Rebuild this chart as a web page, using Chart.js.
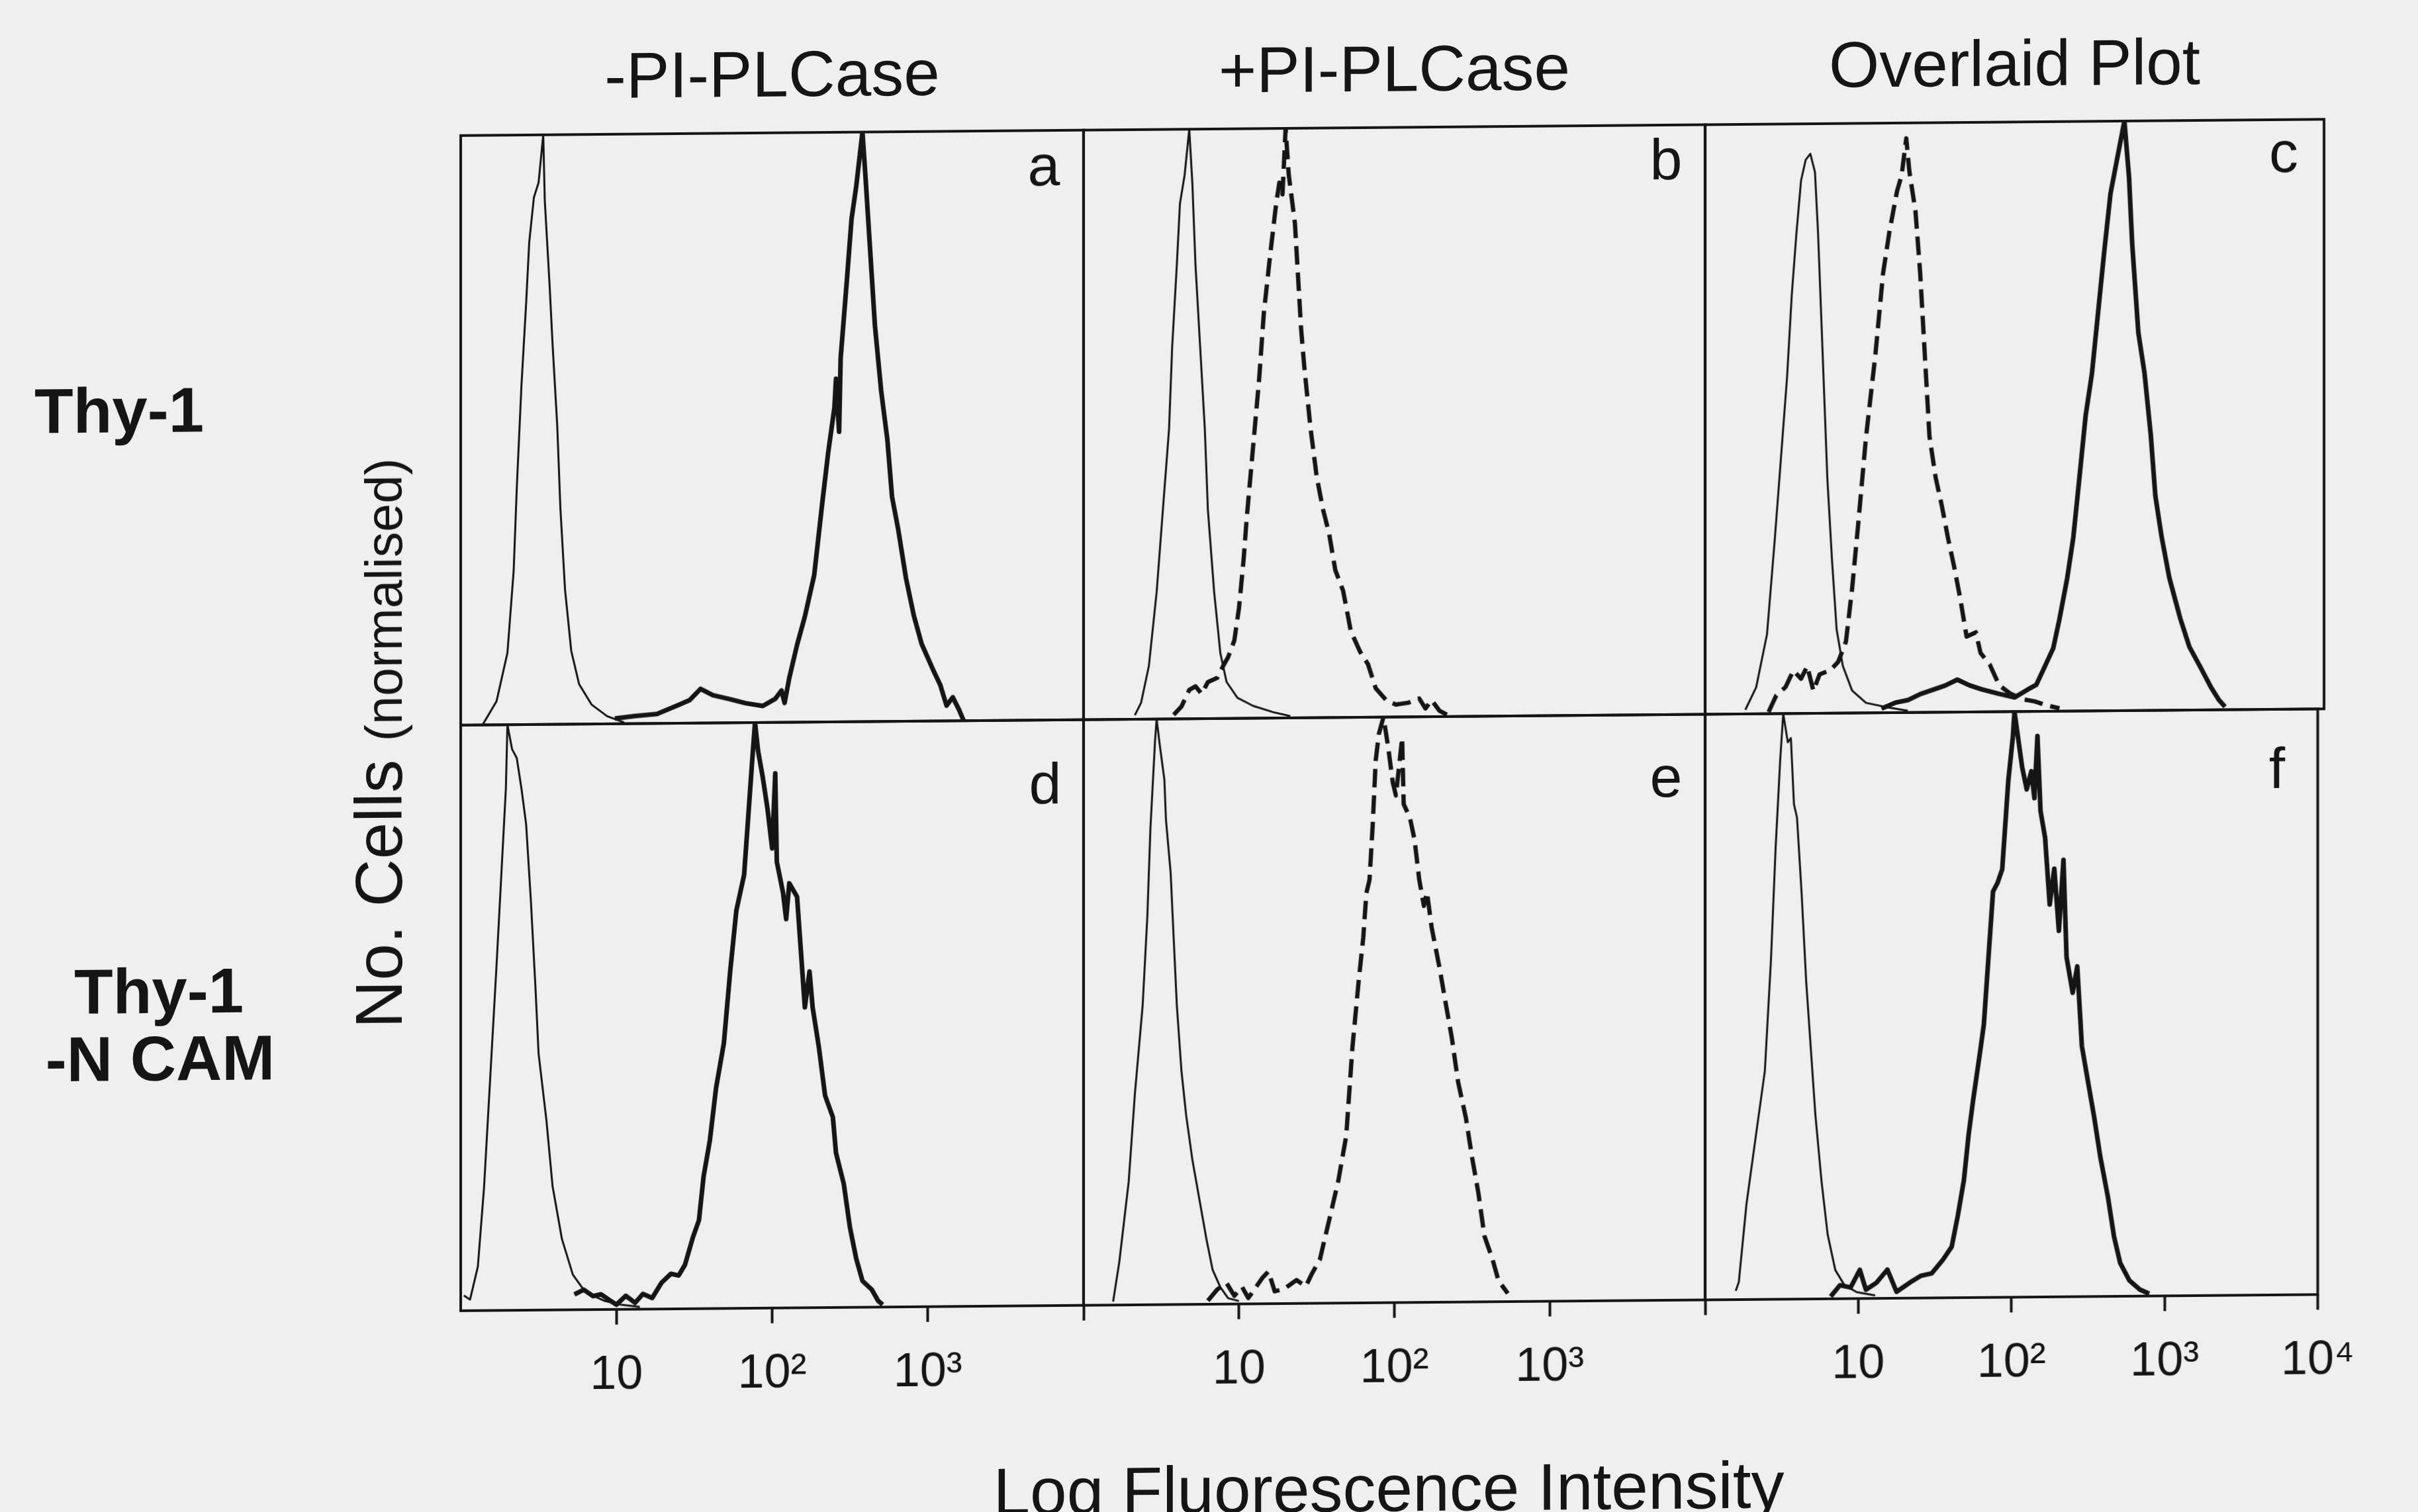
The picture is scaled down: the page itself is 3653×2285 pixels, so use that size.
<!DOCTYPE html>
<html>
<head>
<meta charset="utf-8">
<script src="https://cdn.jsdelivr.net/npm/chart.js"></script>
<style>
  html, body { margin: 0; padding: 0; background: #efefef; overflow: hidden; }
  #fig {
    position: absolute; left: 0; top: 0; width: 3653px; height: 2285px;
    transform-origin: 1826px 1142px; transform: skewY(-0.5deg);
    font-family: "Liberation Sans", Arial, sans-serif; color: #151515;
  }
  .txt { position: absolute; white-space: nowrap; line-height: 1; }
  canvas { position: absolute; }
</style>
</head>
<body>
<div id="fig"></div>
<script>
// x = log10 fluorescence (decades 0..4), y = cells normalised to panel height
const aThin = [[0.14,0],[0.23,4.0],[0.30,12.2],[0.34,26.1],[0.36,40.1],[0.39,57.5],[0.42,71.4],[0.44,81.8],[0.47,89.4],[0.50,91.9],[0.53,100],[0.54,88.8],[0.57,74.9],[0.59,64.4],[0.62,50.6],[0.64,36.7],[0.67,22.8],[0.71,12.4],[0.76,6.8],[0.84,3.3],[0.94,1.3],[1.05,0.2]];
const aThick = [[0.99,0.9],[1.12,1.3],[1.26,1.6],[1.39,3.0],[1.47,3.9],[1.54,5.8],[1.62,4.7],[1.73,4.0],[1.83,3.3],[1.94,2.8],[2.02,4.0],[2.06,5.4],[2.08,3.3],[2.11,7.5],[2.16,13.1],[2.21,17.9],[2.27,24.9],[2.32,36.7],[2.36,45.7],[2.40,53.3],[2.41,58.2],[2.43,49.2],[2.44,61.7],[2.48,74.9],[2.51,85.3],[2.54,90.8],[2.58,100],[2.60,92.2],[2.63,79.7],[2.66,67.2],[2.69,58.9],[2.70,56.1],[2.74,47.8],[2.77,38.1],[2.81,32.5],[2.86,24.2],[2.91,17.9],[2.96,13.1],[3.03,8.9],[3.08,6.1],[3.12,2.6],[3.16,4.0],[3.20,1.9],[3.23,0]];

const bThin = [[0.33,0.7],[0.37,2.8],[0.42,9.0],[0.47,21.5],[0.51,35.4],[0.55,49.2],[0.57,63.1],[0.60,77.0],[0.62,87.4],[0.65,92.2],[0.68,100],[0.70,90.8],[0.72,77.0],[0.75,63.1],[0.78,49.2],[0.80,35.4],[0.84,21.5],[0.88,11.1],[0.92,6.2],[0.99,3.5],[1.09,2.1],[1.22,1.0],[1.33,0.3]];
const bDash = [[0.58,0.7],[0.63,2.1],[0.68,4.9],[0.72,5.5],[0.76,4.2],[0.80,6.2],[0.86,6.9],[0.90,9.0],[0.93,10.4],[0.97,13.2],[1.00,18.7],[1.03,27.0],[1.05,34.0],[1.09,45.8],[1.13,57.6],[1.16,68.7],[1.20,78.4],[1.24,87.4],[1.26,90.8],[1.28,88.8],[1.30,100],[1.32,92.2],[1.36,83.9],[1.40,65.9],[1.42,59.6],[1.46,49.2],[1.50,40.9],[1.54,35.4],[1.58,31.2],[1.62,25.0],[1.67,21.5],[1.72,14.6],[1.78,11.1],[1.83,9.0],[1.88,4.9],[1.95,2.8],[2.01,2.1],[2.09,2.4],[2.16,3.1],[2.20,1.4],[2.24,2.8],[2.29,1.0],[2.34,0.3]];

const cThin = [[0.26,0.7],[0.33,4.5],[0.40,13.5],[0.45,29.5],[0.49,43.3],[0.53,57.2],[0.56,71.0],[0.59,81.4],[0.62,90.4],[0.65,93.9],[0.68,94.9],[0.71,91.8],[0.73,81.4],[0.75,67.6],[0.77,53.7],[0.79,39.8],[0.82,26.0],[0.85,14.2],[0.89,8.0],[0.95,3.8],[1.04,1.7],[1.18,0.9],[1.31,0.3]];
const cDash = [[0.41,0.3],[0.46,3.1],[0.52,4.5],[0.57,7.3],[0.62,5.9],[0.66,8.0],[0.70,3.8],[0.74,6.6],[0.81,7.3],[0.86,8.7],[0.91,12.1],[0.95,21.1],[0.99,32.2],[1.04,46.8],[1.10,60.6],[1.15,74.5],[1.19,81.4],[1.24,88.4],[1.27,91.1],[1.30,97.4],[1.32,91.8],[1.36,84.9],[1.39,74.5],[1.42,60.6],[1.45,46.8],[1.49,39.8],[1.53,35.0],[1.57,29.5],[1.61,24.6],[1.65,19.1],[1.69,12.8],[1.75,13.5],[1.78,10.0],[1.84,8.0],[1.90,4.5],[1.97,3.1],[2.05,2.1],[2.13,1.7],[2.21,1.0],[2.29,0.5]];
const cThick = [[1.14,0.7],[1.23,1.7],[1.31,2.1],[1.39,3.1],[1.47,3.8],[1.55,4.5],[1.63,5.5],[1.71,4.5],[1.79,3.8],[1.89,3.1],[2.00,2.4],[2.09,3.8],[2.14,4.5],[2.19,7.3],[2.25,10.7],[2.29,15.6],[2.34,22.5],[2.38,29.5],[2.42,39.8],[2.46,50.2],[2.50,57.2],[2.54,67.6],[2.58,78.0],[2.62,87.7],[2.66,93.2],[2.71,100],[2.74,90.4],[2.76,79.3],[2.80,64.1],[2.84,57.2],[2.88,46.8],[2.91,36.4],[2.95,29.5],[3.00,22.5],[3.07,15.6],[3.13,10.7],[3.20,7.3],[3.27,3.8],[3.32,1.7],[3.36,0.5]];

const dThin = [[0.02,2.6],[0.06,1.9],[0.11,7.5],[0.15,21.1],[0.19,40.0],[0.23,58.9],[0.26,74.0],[0.29,89.1],[0.30,100],[0.33,95.8],[0.36,94.3],[0.39,89.1],[0.42,83.0],[0.45,70.2],[0.48,55.1],[0.50,43.8],[0.55,32.5],[0.59,21.1],[0.65,12.1],[0.72,6.0],[0.80,3.0],[0.92,1.5],[1.03,0.8],[1.15,0.4]];
const dThick = [[0.73,2.6],[0.79,3.4],[0.85,2.3],[0.90,2.6],[0.96,1.5],[1.00,0.8],[1.06,2.3],[1.12,1.1],[1.17,2.6],[1.23,1.9],[1.29,4.5],[1.35,6.0],[1.40,5.7],[1.44,7.5],[1.49,12.1],[1.53,15.1],[1.56,22.6],[1.60,28.7],[1.64,37.7],[1.69,45.3],[1.73,57.4],[1.77,67.9],[1.82,74.0],[1.84,81.5],[1.87,92.8],[1.89,100],[1.91,95.1],[1.94,90.6],[1.97,85.3],[2.00,78.5],[2.02,91.3],[2.03,76.2],[2.07,70.9],[2.09,66.4],[2.11,72.5],[2.16,70.2],[2.19,58.9],[2.21,51.3],[2.24,57.4],[2.26,51.3],[2.30,44.5],[2.34,36.2],[2.39,32.5],[2.41,26.4],[2.46,21.1],[2.50,13.6],[2.54,8.3],[2.58,4.5],[2.64,3.0],[2.68,1.1],[2.71,0.4]];

const eThin = [[0.19,0.6],[0.23,7.4],[0.29,21.0],[0.33,36.0],[0.38,51.1],[0.41,66.2],[0.43,81.3],[0.46,96.4],[0.47,100],[0.49,95.6],[0.52,89.6],[0.53,82.8],[0.56,73.8],[0.58,62.4],[0.60,51.1],[0.63,39.8],[0.66,32.3],[0.70,24.7],[0.75,17.2],[0.79,11.2],[0.83,5.9],[0.88,2.9],[0.93,1.0],[1.00,0.5]];
const eDash = [[0.80,0.6],[0.86,2.5],[0.92,3.6],[0.97,1.4],[1.02,2.9],[1.06,1.0],[1.15,4.4],[1.19,5.5],[1.23,2.1],[1.29,2.5],[1.37,4.0],[1.43,2.9],[1.47,5.1],[1.52,7.4],[1.56,11.9],[1.60,16.4],[1.64,21.0],[1.69,28.5],[1.73,43.6],[1.77,54.9],[1.80,62.4],[1.82,70.0],[1.84,72.2],[1.86,81.3],[1.88,92.6],[1.90,97.1],[1.93,100],[1.96,94.9],[1.99,88.8],[2.01,86.6],[2.05,96.4],[2.06,85.1],[2.10,82.8],[2.13,79.0],[2.16,72.2],[2.19,67.7],[2.21,70.0],[2.24,64.0],[2.29,57.2],[2.33,51.1],[2.37,45.1],[2.41,37.6],[2.46,31.5],[2.50,24.7],[2.54,18.7],[2.58,11.2],[2.63,7.4],[2.67,3.6],[2.73,1.4]];

const fThin = [[0.20,1.5],[0.22,3.0],[0.27,16.3],[0.33,27.7],[0.39,39.0],[0.43,58.0],[0.46,76.9],[0.49,92.0],[0.51,100],[0.54,95.1],[0.56,95.8],[0.58,84.5],[0.60,82.2],[0.63,69.3],[0.66,54.2],[0.69,42.8],[0.72,31.4],[0.76,20.1],[0.80,11.0],[0.85,4.9],[0.91,2.3],[0.99,1.1],[1.11,0.5]];
const fThick = [[0.82,0.4],[0.88,2.3],[0.95,1.9],[1.01,4.9],[1.05,1.5],[1.12,2.7],[1.19,4.9],[1.25,1.1],[1.34,2.7],[1.41,3.8],[1.48,4.2],[1.55,6.4],[1.61,8.7],[1.65,14.0],[1.69,20.1],[1.72,27.7],[1.75,33.7],[1.80,42.8],[1.82,46.6],[1.85,58.0],[1.88,69.3],[1.91,70.8],[1.94,73.1],[1.98,88.3],[2.01,95.8],[2.02,100],[2.05,94.3],[2.07,90.5],[2.10,86.7],[2.13,89.8],[2.15,85.2],[2.17,95.8],[2.19,83.0],[2.22,78.4],[2.25,67.0],[2.28,73.1],[2.31,62.5],[2.34,74.6],[2.36,58.0],[2.40,51.9],[2.43,56.4],[2.46,42.8],[2.50,36.7],[2.54,30.7],[2.58,23.9],[2.63,17.0],[2.67,10.2],[2.71,5.7],[2.77,2.7],[2.84,1.1],[2.90,0.4]];

const decadeLabels = ['', '10', '10²', '10³', '10⁴'];
const ticksD = [1, 2, 3];
const ticksE = [0, 1, 2, 3];
const ticksF = [0, 1, 2, 3, 4];

const colTitles = ['-PI-PLCase', '+PI-PLCase', 'Overlaid Plot'];
const panelLetters = ['a', 'b', 'c', 'd', 'e', 'f'];

const INK = '#151515';
const COLS = [696, 1637, 2576, 3511];
const ROWS = [195, 1086, 1971];
const PAD = 80;
const AX = 150;

const fig = document.getElementById('fig');

function addText(str, cx, baseline, size, weight) {
  const d = document.createElement('div');
  d.className = 'txt';
  d.textContent = str;
  d.style.fontSize = size + 'px';
  d.style.fontWeight = weight || 'normal';
  d.style.left = cx + 'px';
  d.style.top = (baseline - 0.8465 * size) + 'px';
  d.style.transform = 'translateX(-50%)';
  fig.appendChild(d);
}

const thin = data => ({ data, borderColor: INK, borderWidth: 3 });
const thick = data => ({ data, borderColor: INK, borderWidth: 7 });
const dashed = data => ({ data, borderColor: INK, borderWidth: 6.5, borderDash: [28, 12] });

const framePlugin = {
  id: 'frame',
  afterDraw(chart) {
    const { ctx, chartArea: a } = chart;
    ctx.save();
    ctx.strokeStyle = INK;
    ctx.lineWidth = 4;
    ctx.strokeRect(a.left, a.top, a.right - a.left, a.bottom - a.top);
    ctx.restore();
  }
};

function panel(col, row, datasets, tickList) {
  const left = COLS[col], w = COLS[col + 1] - COLS[col];
  const top = ROWS[row], h = ROWS[row + 1] - ROWS[row];
  const below = tickList ? AX : 10;

  const cv = document.createElement('canvas');
  cv.width = w + 2 * PAD;
  cv.height = h + 10 + below;
  cv.style.left = (left - PAD) + 'px';
  cv.style.top = (top - 10) + 'px';
  fig.appendChild(cv);

  new Chart(cv, {
    type: 'line',
    data: { datasets },
    options: {
      responsive: false,
      animation: false,
      events: [],
      layout: { padding: { left: PAD, right: PAD, top: 10, bottom: tickList ? 0 : 10 } },
      elements: { point: { radius: 0 }, line: { tension: 0, borderJoinStyle: 'round' } },
      plugins: { legend: { display: false }, tooltip: { enabled: false } },
      scales: {
        x: {
          type: 'linear', min: 0, max: 4,
          display: !!tickList,
          afterBuildTicks: s => { s.ticks = (tickList || []).map(v => ({ value: v })); },
          afterFit: s => { if (tickList) s.height = AX; },
          border: { display: false },
          grid: { drawOnChartArea: false, drawTicks: true, tickLength: 23, tickWidth: 4, tickColor: INK },
          ticks: {
            autoSkip: false, maxRotation: 0, padding: 34, color: INK,
            font: { family: 'Liberation Sans', size: 72 },
            callback: v => decadeLabels[v]
          }
        },
        y: { min: 0, max: 100, display: false }
      }
    },
    plugins: [framePlugin]
  });
}

panel(0, 0, [thin(aThin), thick(aThick)]);
panel(1, 0, [thin(bThin), dashed(bDash)]);
panel(2, 0, [thin(cThin), dashed(cDash), thick(cThick)]);
panel(0, 1, [thin(dThin), thick(dThick)], ticksD);
panel(1, 1, [thin(eThin), dashed(eDash)], ticksE);
panel(2, 1, [thin(fThin), thick(fThick)], ticksF);

// column titles and panel letters
colTitles.forEach((t, i) => addText(t, (COLS[i] + COLS[i + 1]) / 2, 140, 98));
const letterPos = [[1577, 278], [2517, 277], [3450, 274], [1579, 1212], [2517, 1210], [3440, 1205]];
panelLetters.forEach((l, i) => addText(l, letterPos[i][0], letterPos[i][1], 88));

// row labels
addText('Thy-1', 180, 639, 96, 'bold');
addText('Thy-1', 240, 1517, 96, 'bold');
addText('-N CAM', 242, 1619, 96, 'bold');

// axis titles
addText('Log Fluorescence Intensity', 2098, 2286, 100);

const yl = document.createElement('div');
yl.className = 'txt';
yl.style.fontSize = '100px';
yl.style.left = '522px';
yl.style.top = '1543px';
yl.style.transformOrigin = '0 0';
yl.style.transform = 'rotate(-90deg)';
yl.innerHTML = 'No. Cells <span style="font-size:77px">(normalised)</span>';
fig.appendChild(yl);
</script>
</body>
</html>
